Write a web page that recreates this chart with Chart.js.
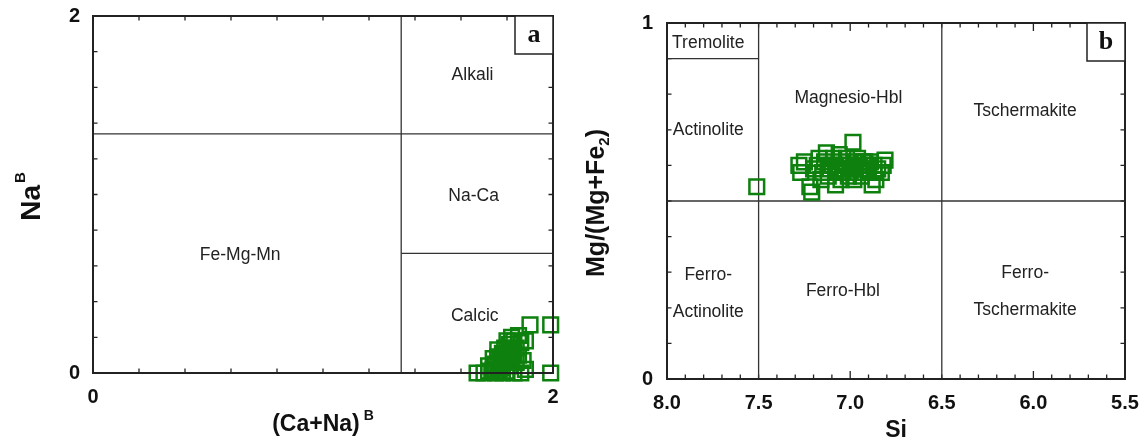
<!DOCTYPE html>
<html>
<head>
<meta charset="utf-8">
<script src="https://cdn.jsdelivr.net/npm/chart.js@4.4.1/dist/chart.umd.min.js"></script>
<style>
  body { margin: 0; background: #fff; }
  #wrap { position: relative; width: 1148px; height: 445px; }
  canvas { position: absolute; top: 0; }
</style>
</head>
<body>
<div id="wrap">
  <canvas id="chartA" width="574" height="445" style="left:0px"></canvas>
  <canvas id="chartB" width="574" height="445" style="left:574px"></canvas>
</div>
<script>
// panel a: (Ca+Na)B vs NaB
const caNaB = [1.67, 1.70, 1.72, 1.75, 1.78, 1.80, 1.83, 1.72, 1.75, 1.77, 1.79, 1.81, 1.76, 1.78, 1.80, 1.82,
               1.79, 1.81, 1.84, 1.83, 1.86, 1.85, 1.87, 1.84, 1.88, 1.86, 1.80, 1.88, 1.90, 1.99, 1.99, 1.76,
               1.74, 1.82, 1.85, 1.74, 1.76, 1.78, 1.80, 1.82, 1.79, 1.81, 1.83, 1.77];
const naB   = [0.00, 0.00, 0.01, 0.00, 0.00, 0.01, 0.00, 0.04, 0.05, 0.03, 0.06, 0.04, 0.09, 0.11, 0.09, 0.12,
               0.14, 0.16, 0.14, 0.18, 0.17, 0.10, 0.07, 0.06, 0.02, 0.00, 0.18, 0.18, 0.27, 0.27, 0.00, 0.13,
               0.08, 0.20, 0.21, 0.02, 0.01, 0.03, 0.06, 0.08, 0.10, 0.13, 0.10, 0.07];
// panel b: Si vs Mg/(Mg+Fe2)
const siValues = [7.51, 6.985, 7.28, 7.27, 7.25, 7.22, 7.21, 7.20, 7.18, 7.17, 7.15, 7.14, 7.13, 7.12, 7.10, 7.09,
                  7.08, 7.07, 7.06, 7.05, 7.04, 7.03, 7.02, 7.01, 7.00, 6.99, 6.98, 6.97, 6.96, 6.95, 6.94, 6.93,
                  6.92, 6.91, 6.90, 6.89, 6.88, 6.87, 6.86, 6.85, 6.83, 6.82, 6.81, 7.16, 7.11, 7.05, 6.98,
                  7.00, 6.97, 6.94, 6.92, 7.03, 7.08, 7.12, 6.90, 6.87, 7.06];
const mgNumber = [0.54, 0.665, 0.60, 0.58, 0.61, 0.54, 0.525, 0.59, 0.60, 0.62, 0.58, 0.61, 0.635, 0.57, 0.60, 0.62,
                  0.545, 0.59, 0.63, 0.61, 0.58, 0.60, 0.62, 0.57, 0.60, 0.59, 0.61, 0.58, 0.62, 0.60, 0.57, 0.61,
                  0.59, 0.60, 0.58, 0.61, 0.545, 0.60, 0.56, 0.59, 0.58, 0.60, 0.615, 0.56, 0.59, 0.56, 0.56,
                  0.58, 0.60, 0.59, 0.61, 0.59, 0.60, 0.60, 0.60, 0.58, 0.58];

// field boundaries (data units)
const boundsA = [[[0, 1.34], [2, 1.34]], [[1.34, 0], [1.34, 2]], [[1.34, 0.67], [2, 0.67]]];
const boundsB = [[[7.5, 0], [7.5, 1]], [[6.5, 0], [6.5, 1]], [[8, 0.5], [5.5, 0.5]], [[8, 0.9], [7.5, 0.9]]];

// field names
const fieldNamesA = ['Alkali', 'Na-Ca', 'Fe-Mg-Mn', 'Calcic'];
const fieldPosA = [[1.65, 1.67], [1.655, 0.99], [0.64, 0.66], [1.66, 0.32]];
const fieldNamesB = ['Tremolite', 'Actinolite', 'Ferro-\nActinolite', 'Magnesio-Hbl', 'Tschermakite', 'Ferro-Hbl', 'Ferro-\nTschermakite'];
const fieldPosB = [[7.775, 0.944], [7.775, 0.70], [7.775, 0.24], [7.01, 0.79], [6.045, 0.753], [7.04, 0.247], [6.045, 0.246]];

const FONT = '"Liberation Sans", Arial, Helvetica, sans-serif';
const GREEN = 'rgb(14,128,14)';

function drawRich(ctx, parts, cx, cy, rot) {
    ctx.save();
    ctx.translate(cx, cy);
    if (rot) ctx.rotate(-Math.PI / 2);
    ctx.textAlign = 'left';
    ctx.textBaseline = 'alphabetic';
    ctx.fillStyle = '#111';
    let total = 0;
    parts.forEach(p => {
        ctx.font = 'bold ' + p.s + 'px ' + FONT;
        p.w = ctx.measureText(p.t).width + (p.gap || 0);
        total += p.w;
    });
    let xx = -total / 2;
    parts.forEach(p => {
        ctx.font = 'bold ' + p.s + 'px ' + FONT;
        ctx.fillText(p.t, xx + (p.gap || 0), p.dy || 0);
        xx += p.w;
    });
    ctx.restore();
}

const decor = {
    id: 'decor',
    beforeDatasetsDraw(chart, args, opts) {
        const {ctx, chartArea: a} = chart;
        const x = chart.scales.x, y = chart.scales.y;
        ctx.save();
        ctx.strokeStyle = '#222';
        ctx.lineWidth = 1.3;
        ctx.beginPath();
        x.ticks.forEach(t => {
            const px = x.getPixelForValue(t.value);
            const len = opts.longTick && opts.longTick(t.value) ? 8 : 4.5;
            ctx.moveTo(px, a.bottom); ctx.lineTo(px, a.bottom - len);
            ctx.moveTo(px, a.top); ctx.lineTo(px, a.top + len);
        });
        y.ticks.forEach(t => {
            const py = y.getPixelForValue(t.value);
            ctx.moveTo(a.left, py); ctx.lineTo(a.left + 4.5, py);
            ctx.moveTo(a.right, py); ctx.lineTo(a.right - 4.5, py);
        });
        ctx.stroke();

        // field names
        ctx.fillStyle = '#222';
        ctx.font = '17.5px ' + FONT;
        ctx.textAlign = 'center';
        ctx.textBaseline = 'middle';
        opts.names.forEach((name, i) => {
            const px = x.getPixelForValue(opts.pos[i][0]);
            const py = y.getPixelForValue(opts.pos[i][1]);
            const lines = name.split('\n');
            lines.forEach((ln, k) => {
                ctx.fillText(ln, px, py + (k - (lines.length - 1) / 2) * 37);
            });
        });
        ctx.restore();
    },
    afterDraw(chart, args, opts) {
        const {ctx, chartArea: a} = chart;
        ctx.save();
        ctx.strokeStyle = '#222';
        ctx.lineWidth = 2;
        ctx.strokeRect(a.left, a.top, a.width, a.height);
        // panel letter box
        ctx.lineWidth = 1.5;
        ctx.fillStyle = '#fff';
        ctx.fillRect(a.right - 38, a.top, 38, 38);
        ctx.strokeRect(a.right - 38, a.top, 38, 38);
        ctx.fillStyle = '#111';
        ctx.font = 'bold 26px "Liberation Serif", "Times New Roman", serif';
        ctx.textAlign = 'center';
        ctx.textBaseline = 'middle';
        ctx.fillText(opts.letter, a.right - 19, a.top + 19);
        ctx.restore();

        drawRich(ctx, opts.xTitle, (a.left + a.right) / 2, a.bottom + 58, false);
        drawRich(ctx, opts.yTitle, a.left - opts.yTitleOffset, (a.top + a.bottom) / 2 + 2, true);
    }
};

function boundaryDatasets(bounds) {
    return bounds.map(seg => ({
        type: 'line',
        data: seg.map(p => ({x: p[0], y: p[1]})),
        showLine: true,
        borderColor: '#333',
        borderWidth: 1.3,
        pointRadius: 0,
        fill: false
    }));
}

function tickFont() {
    return {size: 20, weight: 'bold', family: FONT};
}

// keep the plot frame where the figure has it: no automatic label padding
function fixX(h) {
    return s => { s.height = h; s.paddingLeft = 0; s.paddingRight = 0; s.paddingTop = 0; s.paddingBottom = 0; };
}
function fixY(w) {
    return s => { s.width = w; s.paddingLeft = 0; s.paddingRight = 0; s.paddingTop = 0; s.paddingBottom = 0; };
}

new Chart(document.getElementById('chartA'), {
    type: 'scatter',
    data: {
        datasets: [{
            data: caNaB.map((v, i) => ({x: v, y: naB[i]})),
            pointStyle: 'rect',
            pointRadius: 10.4,
            borderWidth: 2.5,
            borderColor: GREEN,
            backgroundColor: 'rgba(0,0,0,0)',
            clip: false
        }].concat(boundaryDatasets(boundsA))
    },
    options: {
        responsive: false,
        animation: false,
        events: [],
        layout: {padding: {top: 16, right: 21, left: 0, bottom: 0}},
        plugins: {
            legend: {display: false},
            tooltip: {enabled: false},
            decor: {
                names: fieldNamesA, pos: fieldPosA, letter: 'a',
                xTitle: [{t: '(Ca+Na)', s: 23}, {t: 'B', s: 14, dy: -11, gap: 4}],
                yTitle: [{t: 'Na', s: 28}, {t: 'B', s: 15, dy: -15, gap: 2}],
                yTitleOffset: 53
            }
        },
        scales: {
            x: {
                type: 'linear', min: 0, max: 2,
                grid: {display: false, drawTicks: false},
                border: {display: false},
                ticks: {
                    stepSize: 0.2, autoSkip: false, maxRotation: 0, padding: 12,
                    font: tickFont(), color: '#111',
                    callback: v => (Math.abs(v) < 1e-9 || Math.abs(v - 2) < 1e-9) ? String(Math.round(v)) : ''
                },
                afterFit: fixX(72)
            },
            y: {
                type: 'linear', min: 0, max: 2,
                grid: {display: false, drawTicks: false},
                border: {display: false},
                ticks: {
                    stepSize: 0.2, autoSkip: false, padding: 13,
                    font: tickFont(), color: '#111',
                    callback: v => (Math.abs(v) < 1e-9 || Math.abs(v - 2) < 1e-9) ? String(Math.round(v)) : ''
                },
                afterFit: fixY(93)
            }
        }
    },
    plugins: [decor]
});

new Chart(document.getElementById('chartB'), {
    type: 'scatter',
    data: {
        datasets: [{
            data: siValues.map((v, i) => ({x: v, y: mgNumber[i]})),
            pointStyle: 'rect',
            pointRadius: 10.4,
            borderWidth: 2.5,
            borderColor: GREEN,
            backgroundColor: 'rgba(0,0,0,0)',
            clip: false
        }].concat(boundaryDatasets(boundsB))
    },
    options: {
        responsive: false,
        animation: false,
        events: [],
        layout: {padding: {top: 23, right: 23, left: 0, bottom: 0}},
        plugins: {
            legend: {display: false},
            tooltip: {enabled: false},
            decor: {
                names: fieldNamesB, pos: fieldPosB, letter: 'b',
                longTick: v => Math.abs(v - Math.round(v)) < 1e-6,
                xTitle: [{t: 'Si', s: 23}],
                yTitle: [{t: 'Mg/(Mg+Fe', s: 25}, {t: '2', s: 15, dy: 5}, {t: ')', s: 25}],
                yTitleOffset: 63
            }
        },
        scales: {
            x: {
                type: 'linear', min: 5.5, max: 8, reverse: true,
                grid: {display: false, drawTicks: false},
                border: {display: false},
                ticks: {
                    stepSize: 0.1, autoSkip: false, maxRotation: 0, padding: 12,
                    font: tickFont(), color: '#111',
                    callback: v => Math.abs(v * 2 - Math.round(v * 2)) < 1e-6 ? v.toFixed(1) : ''
                },
                afterFit: fixX(66)
            },
            y: {
                type: 'linear', min: 0, max: 1,
                grid: {display: false, drawTicks: false},
                border: {display: false},
                ticks: {
                    stepSize: 0.1, autoSkip: false, padding: 14,
                    font: tickFont(), color: '#111',
                    callback: v => (Math.abs(v) < 1e-9 || Math.abs(v - 1) < 1e-9) ? String(Math.round(v)) : ''
                },
                afterFit: fixY(93)
            }
        }
    },
    plugins: [decor]
});
</script>
</body>
</html>
